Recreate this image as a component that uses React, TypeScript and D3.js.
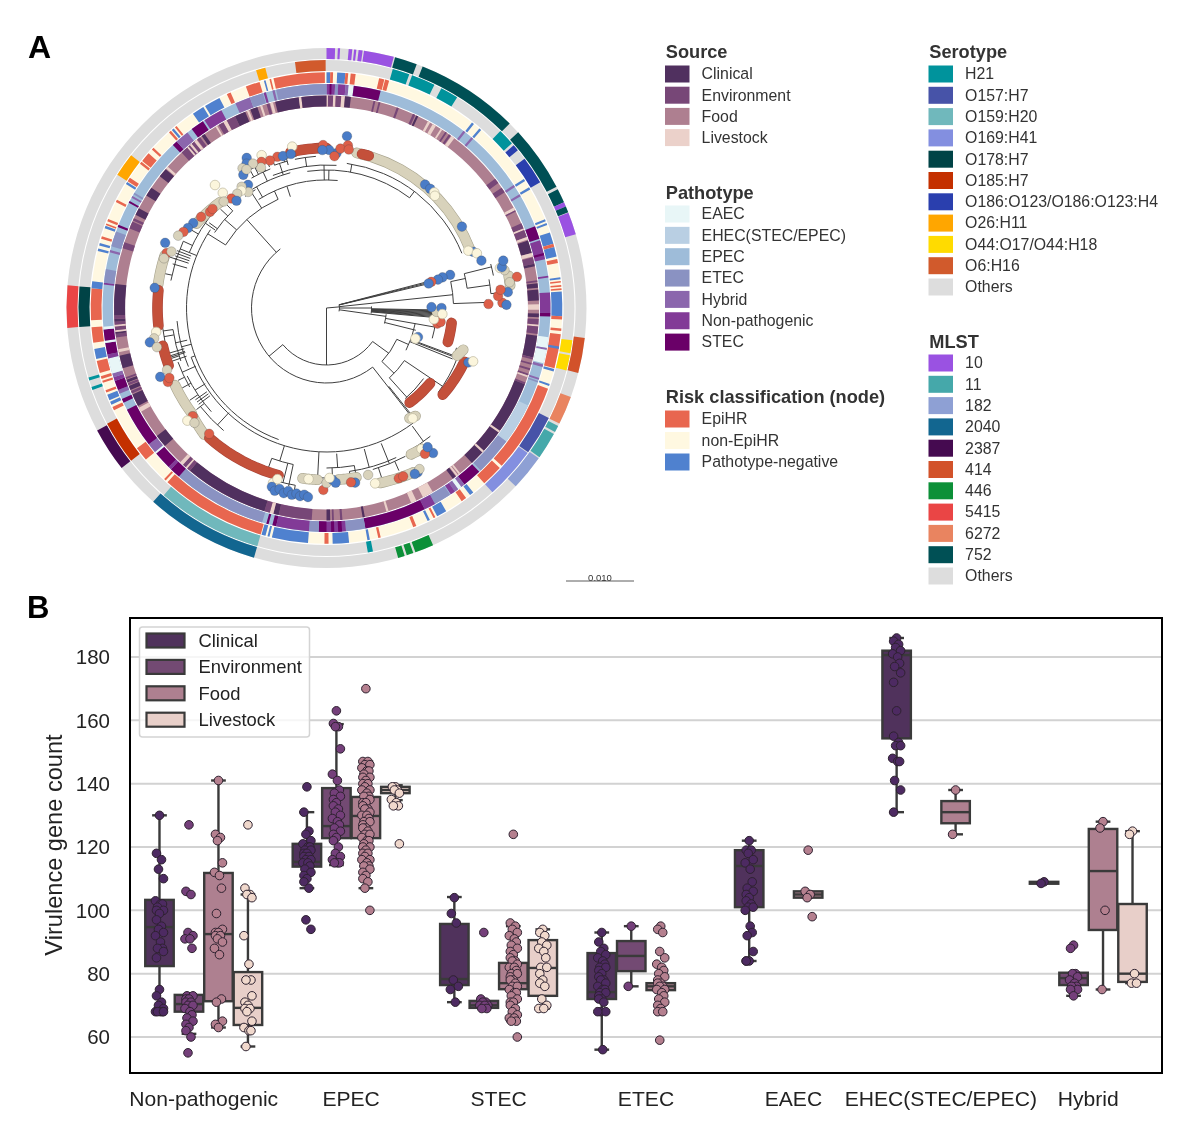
import React from "react";
import * as d3 from "d3";

const FONT = "'Liberation Sans', Arial, sans-serif";

/* ---------- legends ---------- */
const sourceNames = ["Clinical", "Environment", "Food", "Livestock"];
const sourceColors = ["#50305f", "#774777", "#ae7f90", "#ebd1ca"];
const pathotypeNames = ["EAEC", "EHEC(STEC/EPEC)", "EPEC", "ETEC", "Hybrid", "Non-pathogenic", "STEC"];
const pathotypeColors = ["#e8f6f7", "#b9cfe3", "#9ebcd9", "#8a92c2", "#8b66ad", "#823a97", "#6a0068"];
const riskNames = ["EpiHR", "non-EpiHR", "Pathotype-negative"];
const riskColors = ["#e8664f", "#fff8e1", "#4f81cf"];
const serotypeNames = ["H21", "O157:H7", "O159:H20", "O169:H41", "O178:H7", "O185:H7", "O186:O123/O186:O123:H4", "O26:H11", "O44:O17/O44:H18", "O6:H16", "Others"];
const serotypeColors = ["#00939c", "#4753a8", "#70b8bc", "#838fe0", "#004346", "#c43000", "#2a3fae", "#ffa600", "#ffdb00", "#d15a2c", "#dddddd"];
const mlstNames = ["10", "11", "182", "2040", "2387", "414", "446", "5415", "6272", "752", "Others"];
const mlstColors = ["#9a52e2", "#45a8aa", "#8ea0d4", "#126690", "#450a50", "#d2522a", "#0c9038", "#ea4545", "#e98460", "#005055", "#dddddd"];

/* ---------- rings: [from degree, to degree, category]; later runs overlay earlier ones ---------- */
const mlstRuns: [number, number, string][] = [
  [0, 360, "Others"], [0, 1.9, "10"], [2.5, 3, "10"], [4.9, 5.7, "10"], [6.1, 6.6, "10"], [7.1, 8, "10"], [8.3, 15, "10"],
  [15.3, 20.3, "752"], [21.7, 44.8, "752"], [47.5, 62.2, "752"], [62.8, 66, "752"], [66, 67, "10"], [67, 68.4, "752"], [68.5, 73.5, "10"],
  [96.6, 104.5, "414"], [110, 116.4, "6272"], [117, 118.5, "11"], [119, 125, "11"], [125.3, 133.3, "182"],
  [155.8, 160, "446"], [160.5, 162, "446"], [162.5, 164, "446"], [196.2, 221.8, "2040"], [232, 241.9, "2387"], [265.6, 275, "5415"],
];
const serotypeRuns: [number, number, string][] = [
  [0, 360, "Others"], [15.5, 19.5, "H21"], [20.2, 25.8, "H21"], [27.6, 31.8, "H21"], [44.5, 48.4, "H21"], [49, 50.5, "O186:O123/O186:O123:H4"],
  [53, 59.5, "O186:O123/O186:O123:H4"], [97.5, 100.5, "O44:O17/O44:H18"], [101, 104.6, "O44:O17/O44:H18"], [116.3, 125.6, "O157:H7"],
  [125.8, 138, "O169:H41"], [169.2, 170.4, "H21"], [196.2, 221, "O159:H20"], [232, 242.2, "O185:H7"], [250.7, 251.4, "H21"], [253, 253.7, "H21"],
  [265.6, 275, "O178:H7"], [302.5, 308, "O26:H11"], [343.5, 345.7, "O26:H11"], [352.7, 359.8, "O6:H16"],
];
const riskRuns: [number, number, string][] = [
  [0, 360, "non-EpiHR"], [0, .9, "Pathotype-negative"], [.9, 1.6, "EpiHR"], [2.6, 4.6, "Pathotype-negative"], [4.6, 5.3, "EpiHR"], [5.9, 7.1, "EpiHR"],
  [12.9, 14.2, "EpiHR"], [14.4, 15.4, "EpiHR"], [38.1, 38.7, "Pathotype-negative"], [40.4, 41, "Pathotype-negative"], [56.8, 57.4, "Pathotype-negative"], [59.2, 59.8, "Pathotype-negative"],
  [67.9, 68.4, "Pathotype-negative"], [68.9, 69.4, "Pathotype-negative"], [71.3, 74.2, "Pathotype-negative"], [74.2, 75, "EpiHR"], [75, 77.4, "Pathotype-negative"], [78, 79, "EpiHR"],
  [82.5, 83, "Pathotype-negative"], [83.4, 83.8, "EpiHR"], [84.4, 84.8, "EpiHR"], [85.2, 85.6, "EpiHR"], [86, 92, "Pathotype-negative"], [92, 92.8, "EpiHR"], [95, 95.6, "EpiHR"],
  [96.4, 104.8, "EpiHR"], [99.4, 100, "Pathotype-negative"], [105, 105.6, "Pathotype-negative"], [108.8, 109.3, "Pathotype-negative"], [110, 132, "EpiHR"], [132.7, 138, "EpiHR"],
  [141.5, 142.5, "Pathotype-negative"], [143.7, 145, "EpiHR"], [149.5, 152, "Pathotype-negative"], [152.5, 153, "EpiHR"], [154, 154.6, "Pathotype-negative"], [157.6, 158.4, "EpiHR"],
  [166.7, 167.3, "EpiHR"], [169.4, 170, "Pathotype-negative"], [174.5, 178.5, "Pathotype-negative"], [179.5, 180.5, "EpiHR"],
  [184.5, 193.4, "Pathotype-negative"], [194, 194.5, "Pathotype-negative"], [195, 196, "Pathotype-negative"], [196.2, 222.4, "EpiHR"], [223, 223.5, "EpiHR"], [230, 233.5, "EpiHR"],
  [244.3, 245.2, "EpiHR"], [245.8, 246.6, "Pathotype-negative"], [247, 248.4, "Pathotype-negative"], [249, 249.6, "EpiHR"], [251.5, 252, "EpiHR"], [252.5, 253.2, "EpiHR"], [254, 257, "EpiHR"],
  [257.5, 260, "Pathotype-negative"], [261.5, 265.3, "EpiHR"], [267, 274.8, "EpiHR"], [274.8, 276.5, "Pathotype-negative"], [284, 284.6, "Pathotype-negative"], [285.4, 286, "Pathotype-negative"],
  [287.1, 287.7, "EpiHR"], [289.8, 290.4, "Pathotype-negative"], [290.6, 291, "EpiHR"], [291.6, 292.2, "EpiHR"], [296.7, 297.3, "EpiHR"], [301.7, 302.3, "Pathotype-negative"], [302.5, 303.5, "EpiHR"],
  [307.7, 308.3, "EpiHR"], [308.6, 311, "EpiHR"], [312.2, 312.8, "EpiHR"], [318.1, 318.7, "EpiHR"], [319, 319.6, "Pathotype-negative"], [320, 320.5, "EpiHR"], [325.5, 328.5, "Pathotype-negative"],
  [329, 333, "Pathotype-negative"], [335, 336, "EpiHR"], [340, 343.5, "EpiHR"], [344.6, 345, "Pathotype-negative"], [346, 346.4, "EpiHR"], [347, 359.6, "EpiHR"],
];
const pathotypeRuns: [number, number, string][] = [
  [0, 360, "EPEC"], [0, 2.2, "Non-pathogenic"], [.8, 1.3, "STEC"], [2.2, 3, "ETEC"], [3, 4.9, "Non-pathogenic"], [4.9, 5.7, "Hybrid"], [5.7, 7, "EAEC"], [7, 14, "STEC"],
  [37.7, 38.3, "Hybrid"], [40.3, 40.9, "Hybrid"], [56.7, 57.3, "Hybrid"], [59.5, 60.1, "Hybrid"], [68.6, 72, "STEC"], [72.4, 77.4, "Non-pathogenic"], [75.8, 76.4, "STEC"], [81.7, 82.2, "Non-pathogenic"],
  [86, 91.3, "Non-pathogenic"], [91.3, 92.2, "STEC"], [97.5, 100.3, "EAEC"], [100.3, 100.8, "Hybrid"], [100.8, 104.3, "EAEC"], [104.6, 105.3, "Hybrid"], [108.2, 108.7, "Hybrid"], [109, 109.4, "ETEC"],
  [115.8, 126.6, "EHEC(STEC/EPEC)"], [126.6, 136.5, "ETEC"], [137, 142, "STEC"], [142, 143, "Hybrid"], [143, 144, "EAEC"], [144, 145, "Hybrid"], [145, 146.3, "Non-pathogenic"], [146.5, 151, "ETEC"],
  [151, 154, "Non-pathogenic"], [154, 170, "STEC"], [170, 175, "ETEC"], [175, 182, "Non-pathogenic"], [176, 177, "STEC"], [178, 178.8, "STEC"], [180, 182, "STEC"], [182, 184.5, "ETEC"],
  [184.5, 193, "Non-pathogenic"], [193, 194, "STEC"], [195, 195.6, "STEC"], [196.7, 221.2, "ETEC"], [221.2, 224, "STEC"], [224, 224.8, "Non-pathogenic"], [224.8, 229.5, "STEC"], [229.5, 230, "EAEC"],
  [230, 232.5, "Hybrid"], [232.5, 243, "STEC"], [245, 246, "STEC"], [247.5, 248.5, "Hybrid"], [248.5, 251, "STEC"], [251, 252, "Non-pathogenic"], [252, 253, "Hybrid"], [253, 257, "EAEC"], [257, 258, "Non-pathogenic"],
  [258, 261, "STEC"], [261, 261.6, "EAEC"], [261.6, 264.5, "STEC"], [264.5, 265.2, "EAEC"], [276, 276.5, "Non-pathogenic"], [276.5, 280, "ETEC"], [284.4, 285, "Hybrid"], [286, 290, "ETEC"], [291.2, 291.8, "STEC"],
  [298, 298.5, "STEC"], [299.5, 300, "Hybrid"], [300.5, 301, "ETEC"], [316.7, 318, "STEC"], [318, 321.6, "Hybrid"], [323, 326.5, "STEC"], [327, 332, "Non-pathogenic"], [336, 340, "Hybrid"],
  [340, 343.5, "ETEC"], [343.7, 344.3, "Non-pathogenic"], [346, 346.6, "Hybrid"], [347, 360, "ETEC"],
];
const sourceRuns: [number, number, string][] = [
  [0, 360, "Food"], [0, .4, "Livestock"], [.4, 1.8, "Environment"], [1.8, 2.5, "Livestock"], [2.5, 4, "Environment"], [4, 5, "Livestock"], [5, 6.6, "Clinical"], [12.8, 13.3, "Environment"], [14.2, 14.7, "Environment"],
  [19.3, 19.9, "Environment"], [24, 24.7, "Environment"], [25, 25.6, "Clinical"], [28.5, 29.2, "Livestock"], [30, 31, "Livestock"], [32.5, 33, "Livestock"], [34, 34.5, "Environment"], [35.2, 35.8, "Environment"], [36, 37, "Livestock"],
  [52.5, 54, "Environment"], [55.5, 57, "Environment"], [61.8, 62.6, "Livestock"], [62.6, 63, "Environment"], [66.5, 68, "Environment"], [68, 68.5, "Livestock"], [68.5, 70.5, "Environment"], [70.5, 71.2, "Livestock"], [71.5, 75, "Clinical"],
  [75, 76, "Livestock"], [76.2, 78, "Environment"], [78, 78.7, "Clinical"], [82.5, 83, "Environment"], [83.3, 84.5, "Clinical"], [85, 88, "Clinical"], [89, 90.5, "Livestock"], [91.5, 92.5, "Clinical"], [93, 94.5, "Environment"], [94.5, 95, "Livestock"],
  [95, 97, "Environment"], [97.5, 103.5, "Clinical"], [103.5, 104, "Environment"], [105, 105.5, "Environment"], [106.5, 107, "Environment"], [108, 108.5, "Environment"], [108.5, 109, "Livestock"], [110.5, 111, "Environment"],
  [111, 136.8, "Clinical"], [125.3, 125.9, "Livestock"], [132.2, 132.8, "Livestock"], [141, 141.5, "Livestock"], [141.8, 142.3, "Livestock"], [142.5, 143.5, "Clinical"], [150, 153, "Livestock"], [155, 156.5, "Livestock"], [163, 163.6, "Livestock"],
  [169.6, 170.2, "Clinical"], [175.7, 176.3, "Environment"], [178, 178.5, "Environment"], [179, 180, "Clinical"], [184, 193, "Environment"], [193, 194.5, "Clinical"], [194.5, 195.5, "Livestock"], [195.5, 197, "Environment"], [197, 220, "Clinical"],
  [220, 221, "Environment"], [221, 221.5, "Livestock"], [221.5, 222.5, "Environment"], [222.5, 223.5, "Livestock"], [229.5, 233, "Clinical"], [240.8, 242, "Livestock"], [242.5, 246, "Clinical"], [246.3, 247, "Environment"], [247.3, 248.5, "Clinical"],
  [248.7, 249.3, "Environment"], [249.5, 250.3, "Clinical"], [250.5, 251, "Environment"], [253.5, 257, "Clinical"], [258, 258.8, "Livestock"], [262, 263, "Environment"], [263, 263.5, "Clinical"], [263.5, 264, "Livestock"], [264, 265, "Environment"],
  [265, 265.5, "Livestock"], [265.5, 266.3, "Environment"], [266.3, 267, "Clinical"], [267, 268, "Environment"], [268, 276.5, "Clinical"], [286.3, 288, "Environment"], [292, 294, "Environment"], [294.3, 295, "Environment"], [296, 298, "Clinical"],
  [302, 304.5, "Clinical"], [308.3, 310.8, "Clinical"], [311, 311.7, "Livestock"], [317, 322, "Environment"], [319, 319.5, "Livestock"], [320, 320.6, "Livestock"], [321.5, 322.3, "Livestock"], [322.5, 323.5, "Environment"], [324, 325, "Clinical"],
  [328.5, 329, "Livestock"], [329.5, 331, "Environment"], [331, 332, "Livestock"], [332, 334.5, "Environment"], [334.5, 337.5, "Clinical"], [338, 338.6, "Livestock"], [339, 341, "Clinical"], [341.8, 342.4, "Livestock"], [343.6, 344.4, "Environment"], [344.6, 345.4, "Livestock"],
  [346, 352.5, "Clinical"], [352.5, 353.2, "Livestock"], [353.2, 360, "Clinical"],
];

/* ---------- tree: [angle of stem, branch start, branch end, arc from, arc to] ---------- */
const treeClades: number[][] = [
  [180, 0, 57, 126, 230], [230, 57, 75, 142, 322], [126, 57, 77, 114, 134], [134, 77, 94, 124, 138], [138, 94, 120, 126, 139], [124, 94, 140, 111, 127],
  [114, 77, 90, 100, 118], [112, 90, 136, 107, 111], [111, 90, 136], [110.5, 95, 136], [142, 75, 136, 140, 144], [141.5, 100, 136], [108, 90, 94], [100, 60, 110, 97, 106], [98, 13, 60, 96, 105], [104, 60, 92],
  [85, 0, 13, 75, 105], [76, 13, 103, 75, 78], [75.4, 13, 103], [76.6, 13, 103], [90, 13, 45, 88, 97], [91, 45, 113], [91.5, 45, 113], [92, 45, 113], [92.5, 45, 113], [93, 45, 113], [93.5, 45, 113], [94, 45, 113], [94.5, 45, 113], [95, 45, 113],
  [84, 13, 127, 78, 88], [78, 127, 142, 76, 82], [76, 142, 170, 75, 79], [82, 142, 165, 80, 85], [88, 127, 160, 87, 90], [85, 165, 178],
  [318, 75, 119, 302, 336], [336, 119, 128, 328, 365], [1, 128, 138, -8, 37], [37, 138, 146], [10, 138, 146, 8, 68], [-1, 128, 143, -22, 4], [342, 128, 117], [330, 128, 140, 328, 345], [335, 140, 150, 330, 338], [342, 140, 152, 340, 345],
  [331, 150, 160], [336, 150, 158], [344, 152, 160], [340, 152, 158], [333, 150, 158, 329, 336], [338, 152, 160, 336, 341], [345, 148, 155, 343, 349], [352, 143, 152, 348, 356],
  [327, 119, 138, 324, 329], [311, 119, 135, 304, 316], [325, 138, 142], [306, 135, 145], [316, 135, 143], [313, 135, 145],
  [302, 119, 140, 200, 304], [305, 136, 148, 292, 312], [292, 140, 158, 280, 295], [300, 148, 156], [295, 148, 158], [282, 158, 165], [288, 158, 165],
  [288, 145, 160], [289, 145, 160], [290, 145, 160], [291, 145, 160], [286, 145, 160],
  [255, 140, 150, 247, 265], [257, 143, 155, 250, 262], [260, 155, 165, 258, 268], [246, 143, 158, 240, 250], [238, 143, 155, 228, 244], [223, 143, 160, 220, 232], [250, 140, 144, 143, 250], [262, 155, 165], [252, 155, 163], [244, 158, 165], [232, 155, 165], [236, 155, 165], [241, 155, 165],
  [251, 148, 165], [252.5, 148, 165], [253, 148, 165], [254, 148, 165], [233, 146, 160], [234, 146, 160], [235, 146, 160],
  [197, 144, 160, 192, 200], [194, 160, 180, 190, 196], [200, 160, 172], [192, 160, 182], [190, 180, 186], [196, 180, 186],
  [183, 144, 170, 180, 188], [176, 146, 160, 170, 180], [165, 146, 165, 155, 172], [158, 146, 168, 152, 164], [144, 146, 165, 141, 151],
  [170, 160, 168], [178, 160, 168], [172, 165, 170], [156, 168, 178], [162, 168, 178], [147, 165, 168], [150, 165, 168],
];
/* dense leaf groups along the circle: [from degree, to degree, radius at start, radius at end, colour key] */
const leafBands: [number, number, number, number, string][] = [
  [11, 68, 158, 155, "tan"], [13, 15.5, 158, 158, "rust"], [347, 360, 160, 160, "rust"], [315, 303, 150, 155, "tan"], [288, 278, 170, 170, "tan"], [276, 264, 169, 169, "rust"],
  [257, 250, 168, 168, "rust"], [243, 232, 170, 171, "tan"], [231, 224, 172, 176, "tan"], [222, 196, 175, 174, "rust"],
  [188, 183, 172, 172, "tan"], [176, 170, 172, 172, "tan"], [163, 152, 183, 186, "tan"], [150, 146, 169, 170, "tan"], [143, 140.5, 138, 140, "tan"],
  [138.7, 126, 126, 128, "rust"], [126.7, 111.3, 145, 148, "rust"], [110, 107, 139, 143, "tan"], [105.6, 96.8, 126, 126, "rust"], [83, 80, 185, 185, "tan"],
];
/* single leaves: [degree, radius, colour key] */
const leafDots: [number, number, string][] = [
  [6.8, 173, "blue"], [7.5, 164, "red"], [3.7, 155, "blue"], [-1.2, 163, "red"], [1, 158, "blue"], [5, 160, "red"], [3, 152, "red"], [8, 160, "red"],
  [38.6, 158, "blue"], [41, 158, "blue"], [43, 158, "cream"], [44, 156, "cream"], [59, 158, "blue"], [69, 157, "blue"], [68, 153, "cream"], [70, 160, "cream"], [73, 162, "blue"],
  [342, 159, "red"], [339, 158, "red"], [337, 166, "cream"], [336, 160, "red"], [335, 155, "tan"], [348, 165, "cream"], [344, 158, "blue"], [347, 158, "blue"], [358.5, 158, "blue"],
  [332, 170, "blue"], [331, 165, "blue"], [329, 163, "tan"], [328, 157, "blue"], [333, 162, "tan"], [330, 160, "tan"],
  [327.5, 146, "blue"], [326, 140, "tan"], [325, 148, "tan"], [324, 145, "cream"], [322, 145, "tan"], [319, 145, "red"], [320, 140, "blue"], [318, 155, "cream"], [317.8, 166, "cream"], [316, 148, "tan"],
  [309.5, 151, "red"], [311, 151, "red"], [306, 155, "red"], [302.5, 158, "blue"], [300, 160, "blue"], [298, 162, "red"], [296, 165, "tan"], [292, 174, "blue"], [289, 169, "red"], [290, 165, "tan"], [287, 170, "tan"],
  [276.7, 173, "blue"], [262, 172, "cream"], [260, 175, "tan"], [259, 180, "blue"], [257, 174, "tan"], [248.8, 171, "tan"], [247.5, 180, "blue"], [245, 175, "red"], [246, 172, "red"],
  [231, 172, "red"], [231, 179, "cream"], [229, 175, "tan"], [223, 172, "red"], [197, 183, "cream"], [196, 178, "cream"],
  [197, 187, "blue"], [195.8, 190, "blue"], [194.5, 187, "blue"], [193, 190, "blue"], [191.8, 187, "blue"], [190.5, 190, "blue"], [189.2, 188, "blue"], [188, 190, "blue"], [186.8, 188, "blue"], [185.6, 190, "blue"],
  [186, 172, "cream"], [181, 182, "red"], [180, 175, "tan"], [178, 172, "blue"], [177, 175, "blue"], [179, 170, "cream"], [170.7, 177, "blue"], [172, 176, "red"], [166, 172, "tan"], [164.5, 182, "cream"],
  [157, 185, "red"], [155.5, 185, "red"], [151, 188, "blue"], [150, 186, "tan"], [152, 188, "blue"], [146, 170, "cream"], [143.7, 180, "blue"], [146, 176, "red"], [144, 172, "blue"],
  [142, 140, "cream"], [111, 152, "blue"], [110, 156, "cream"], [107.6, 96, "blue"], [109, 94, "cream"], [98, 112, "red"], [95, 112, "red"], [97, 115, "red"], [96, 108, "cream"], [92, 110, "tan"], [90, 115, "blue"], [93, 116, "cream"], [89.5, 105, "blue"],
  [88.6, 162, "red"], [88.3, 176, "red"], [89, 180, "blue"], [85, 182, "blue"], [86, 172, "red"], [84, 175, "red"], [80.7, 193, "red"], [82, 185, "tan"], [78, 182, "tan"], [77, 178, "cream"], [76.9, 180, "blue"], [75, 183, "blue"],
  [75, 128, "blue"], [75.2, 120, "blue"], [75.7, 115, "blue"], [76, 108, "red"], [76.5, 105, "blue"],
];
const leafColors: Record<string, string> = { red: "#dd5f49", rust: "#c4503a", cream: "#fbf5dc", tan: "#d8d2bb", blue: "#4a7cc7" };

/* ---------- box plot ---------- */
const categories = ["Non-pathogenic", "EPEC", "STEC", "ETEC", "EAEC", "EHEC(STEC/EPEC)", "Hybrid"];
const yTicks = [60, 80, 100, 120, 140, 160, 180];
/* [low whisker, q1, median, q3, high whisker] per source */
type Box = number[] | null;
const nonPathogenicBoxes: Box[] = [[68, 82.4, 94.7, 103.3, 130], [61, 68, 70.4, 73.3, 73.3], [63, 71.3, 92.5, 111.8, 141], [57, 63.8, 69.2, 80.5, 105]];
const epecBoxes: Box[] = [[107, 113.8, 115.3, 121, 131], [114.3, 122.8, 126.6, 138.6, 158.8], [107, 122.8, 129.8, 135.8, 147], [134.8, 137, 138, 139, 139.5]];
const stecBoxes: Box[] = [[71, 76.4, 78.3, 95.7, 104.2], [69.2, 69.2, 70, 71.4, 71.4], [65, 75.1, 77, 83.4, 95], [69, 73, 81.8, 90.6, 94]];
const etecBoxes: Box[] = [[56, 72, 74.2, 86.5, 93], [76, 80.8, 85.6, 90.3, 95], [76, 74.8, 76, 77, 77], null];
const eaecBoxes: Box[] = [[84, 101, 114, 119, 122], null, [104, 104, 105, 106, 106], null];
const ehecBoxes: Box[] = [[131, 154.3, 180.6, 182, 186], null, [124, 127.5, 131, 134.5, 138], null];
const hybridBoxes: Box[] = [[108.4, 108.4, 108.7, 109, 109], [73, 76.4, 78.6, 80.3, 80.3], [75, 93.8, 112.4, 125.7, 128], [77, 77.4, 80, 102, 125]];
const boxTable: Box[][] = [nonPathogenicBoxes, epecBoxes, stecBoxes, etecBoxes, eaecBoxes, ehecBoxes, hybridBoxes];

/* gene counts of the isolates, per source */
const nonPathogenicPoints = [
  [130, 118, 116, 113, 110, 103, 102, 102, 101, 100, 100, 99, 97, 95, 94, 93, 92, 90, 88, 88, 87, 85, 75, 73, 71, 70, 69, 68, 68, 68, 68, 68],
  [127, 106, 105, 93, 92, 91, 91, 88, 73, 73, 72, 72, 71, 71, 70, 70, 69, 68, 67, 66, 65, 64, 63, 62, 60, 55],
  [141, 124, 123, 122, 115, 112, 111, 107, 99, 94, 93, 93, 92, 92, 91, 90, 88, 86, 72, 71, 65, 64, 63],
  [127, 107, 105, 105, 104, 92, 83, 78, 78, 73, 71, 70, 69, 69, 68, 65, 63, 62, 62, 57],
];
const epecPoints = [
  [139, 131, 125, 124, 122, 121, 120, 120, 119, 119, 118, 118, 117, 117, 116, 116, 115, 115, 114, 113, 112, 111, 110, 109, 107, 97, 94],
  [163, 159, 158, 158, 151, 143, 141, 138, 137, 136, 135, 134, 133, 132, 131, 130, 129, 128, 127, 126, 125, 124, 123, 122, 120, 118, 117, 116, 115, 115, 115],
  [170, 147, 147, 146, 146, 145, 144, 144, 143, 142, 142, 141, 140, 140, 139, 138, 138, 137, 136, 136, 135, 134, 134, 133, 132, 132, 131, 130, 130, 129, 128, 128, 127, 126, 126, 125, 124, 124, 123, 122, 122, 121, 120, 120, 119, 118, 118, 117, 116, 116, 115, 114, 114, 113, 112, 111, 110, 109, 107, 100],
  [139, 139, 138, 138, 137, 135, 134, 133, 133, 121],
];
const stecPoints = [
  [104, 99, 96, 78, 76, 75, 71],
  [93, 72, 71, 71, 70, 70, 70, 69, 69],
  [124, 96, 95, 94, 93, 92, 91, 90, 89, 88, 87, 86, 85, 84, 84, 83, 82, 82, 81, 80, 80, 79, 78, 78, 77, 76, 76, 75, 74, 74, 73, 72, 71, 71, 70, 69, 68, 67, 66, 66, 65, 65, 60],
  [94, 93, 92, 90, 89, 88, 87, 85, 82, 82, 80, 78, 77, 76, 72, 70, 69, 69],
];
const etecPoints = [
  [93, 90, 88, 87, 86, 85, 84, 83, 82, 82, 81, 80, 79, 78, 78, 77, 76, 75, 75, 74, 74, 73, 72, 72, 71, 68, 68, 68, 56],
  [95, 76],
  [95, 94, 93, 87, 85, 83, 82, 81, 80, 79, 78, 77, 77, 76, 76, 75, 75, 74, 73, 72, 71, 70, 69, 68, 68, 59],
  [],
];
const eaecPoints = [
  [122, 119, 119, 118, 116, 115, 113, 109, 107, 106, 105, 104, 103, 102, 101, 101, 100, 95, 93, 92, 87, 84, 84, 84],
  [],
  [119, 106, 105, 104, 98],
  [],
];
const ehecPoints = [
  [186, 185, 184, 183, 182, 181, 180, 178, 177, 175, 172, 163, 155, 153, 152, 152, 148, 147, 147, 141, 138, 131],
  [],
  [138, 124],
  [],
];
const hybridPoints = [
  [109, 108.5],
  [89, 88, 80, 80, 79, 78, 77, 76, 76, 75, 75, 73],
  [128, 126, 100, 75],
  [125, 124, 80, 77, 77],
];
const pointTable = [nonPathogenicPoints, epecPoints, stecPoints, etecPoints, eaecPoints, ehecPoints, hybridPoints];
const jitterCycle = [0, -3, 2, -1, 4, -4, 1, 3, -2, 4, -3];

const pointColors = ["#4d2a62", "#743f7a", "#b5808f", "#f0d8cc"];
const boxColors = ["#50325c", "#734a73", "#ae8090", "#e8cfc9"];
const EDGE = "#3a3a3a";

/* ---------- geometry ---------- */
const cx = 326.5, cy = 308;
const deg = d3.scaleLinear().domain([0, 360]).range([0, 2 * Math.PI]);
const arcGen = d3.arc();
const ringBands = [
  { runs: mlstRuns, names: mlstNames, colors: mlstColors, r0: 249, r1: 260 },
  { runs: serotypeRuns, names: serotypeNames, colors: serotypeColors, r0: 237, r1: 248 },
  { runs: riskRuns, names: riskNames, colors: riskColors, r0: 225, r1: 235.8 },
  { runs: pathotypeRuns, names: pathotypeNames, colors: pathotypeColors, r0: 213.5, r1: 224 },
  { runs: sourceRuns, names: sourceNames, colors: sourceColors, r0: 201.5, r1: 212.5 },
];
function cladePath(c: number[]) {
  const [a, r0, r1, a0, a1] = c;
  const p = d3.path();
  const [x0, y0] = d3.pointRadial(deg(a), r0);
  const [x1, y1] = d3.pointRadial(deg(a), r1);
  p.moveTo(x0, y0); p.lineTo(x1, y1);
  if (a0 !== undefined) {
    const [xa, ya] = d3.pointRadial(deg(a0), r1);
    p.moveTo(xa, ya);
    p.arc(0, 0, r1, deg(a0) - Math.PI / 2, deg(a1) - Math.PI / 2);
  }
  return p.toString();
}
function bandPath(b: [number, number, number, number, string]) {
  const [a0, a1, r0, r1] = b;
  const t = d3.scaleLinear().domain([0, 1]);
  const line = d3.lineRadial<number>().angle((u) => deg(t.range([a0, a1])(u))).radius((u) => t.range([r0, r1])(u));
  return line([0, .1, .2, .3, .4, .5, .6, .7, .8, .9, 1]) || "";
}

const legendGroups = [
  { title: "Source", names: sourceNames, colors: sourceColors, x: 665, titleY: 51, y0: 74, step: 21.2 },
  { title: "Pathotype", names: pathotypeNames, colors: pathotypeColors, x: 665, titleY: 192, y0: 214, step: 21.35 },
  { title: "Risk classification (node)", names: riskNames, colors: riskColors, x: 665, titleY: 396, y0: 419, step: 21.5 },
  { title: "Serotype", names: serotypeNames, colors: serotypeColors, x: 928.5, titleY: 51, y0: 74, step: 21.3 },
  { title: "MLST", names: mlstNames, colors: mlstColors, x: 928.5, titleY: 341, y0: 363, step: 21.3 },
];

/* plot B */
const frame = { l: 130, r: 1162, t: 618, b: 1073 };
const y = d3.scaleLinear().domain([60, 180]).range([1037, 657]);
const xBand = d3.scaleBand<string>().domain(categories).range([frame.l, frame.r]);
const hue = d3.scaleBand<string>().domain(sourceNames).range([xBand.bandwidth() * 0.1, xBand.bandwidth() * 0.9]);

export default function App() {
  return (
    <svg width={1188} height={1137} viewBox="0 0 1188 1137" style={{ position: "absolute", left: 0, top: 0, background: "#fff", fontFamily: FONT, filter: "blur(0.4px)" }}>
      <text x={28} y={58} fontSize={32} fontWeight="bold" fill="#000">A</text>
      <text x={27} y={618} fontSize={31} fontWeight="bold" fill="#000">B</text>

      <g transform={`translate(${cx},${cy})`}>
        {ringBands.map((ring, i) => (
          <g key={i}>
            {ring.runs.map(([from, to, name], j) => (
              <path key={j} fill={ring.colors[ring.names.indexOf(name)]}
                d={arcGen({ innerRadius: ring.r0, outerRadius: ring.r1, startAngle: deg(from), endAngle: deg(to) } as any) as string} />
            ))}
          </g>
        ))}
        <g fill="none" stroke="#3f3f3f" strokeWidth={1}>
          {treeClades.map((c, i) => <path key={i} d={cladePath(c)} />)}
        </g>
        <g fill="none" strokeLinecap="round">
          {leafBands.map((b, i) => (
            <g key={i}>
              <path d={bandPath(b)} stroke={b[4] === "tan" ? "#a8a48e" : "#a9463a"} strokeWidth={10.6} />
              <path d={bandPath(b)} stroke={leafColors[b[4]]} strokeWidth={9.4} />
            </g>
          ))}
        </g>
        {leafDots.map(([a, r, k], i) => {
          const [px, py] = d3.pointRadial(deg(a), r);
          return <circle key={i} cx={px} cy={py} r={4.8} fill={leafColors[k]} stroke={k === "cream" ? "#bdb89f" : "rgba(60,60,60,.35)"} strokeWidth={0.7} />;
        })}
      </g>

      <g>
        <line x1={566} x2={634} y1={581} y2={581} stroke="#333" strokeWidth={0.8} />
        <text x={600} y={580.5} textAnchor="middle" fontSize={9.5} fill="#333">0.010</text>
      </g>

      {legendGroups.map((g) => (
        <g key={g.title}>
          <text x={g.x + 0.8} y={g.titleY} dy="0.36em" fontSize={18.2} fontWeight="bold" fill="#333">{g.title}</text>
          {g.names.map((n, i) => (
            <g key={n}>
              <rect x={g.x} y={g.y0 + i * g.step - 8.5} width={24.5} height={17} fill={g.colors[i]} />
              <text x={g.x + 36.6} y={g.y0 + i * g.step} dy="0.34em" fontSize={15.85} fill="#333">{n}</text>
            </g>
          ))}
        </g>
      ))}

      {/* Panel B */}
      {yTicks.map((t) => (
        <line key={t} x1={frame.l} x2={frame.r} y1={y(t)} y2={y(t)} stroke="#d2d2d2" strokeWidth={2} />
      ))}
      {categories.map((cat, ci) => {
        const c0 = xBand(cat) as number;
        return (
          <g key={cat}>
            {boxTable[ci].map((b, hi) => {
              if (!b) return null;
              const [lo, q1, med, q3, hiW] = b;
              const w = hue.bandwidth();
              const x0 = c0 + (hue(sourceNames[hi]) as number);
              const mid = x0 + w / 2;
              return (
                <g key={hi} stroke={EDGE} strokeWidth={2.4} fill="none">
                  {hiW > q3 && <line x1={mid} x2={mid} y1={y(q3)} y2={y(hiW)} />}
                  {lo < q1 && <line x1={mid} x2={mid} y1={y(q1)} y2={y(lo)} />}
                  {hiW > q3 && <line x1={mid - w / 4} x2={mid + w / 4} y1={y(hiW)} y2={y(hiW)} />}
                  {lo < q1 && <line x1={mid - w / 4} x2={mid + w / 4} y1={y(lo)} y2={y(lo)} />}
                  <rect x={x0 + .5} width={w - 1} y={y(q3)} height={y(q1) - y(q3)} fill={boxColors[hi]} />
                  <line x1={x0 + .5} x2={x0 + w - .5} y1={y(med)} y2={y(med)} />
                </g>
              );
            })}
            {pointTable[ci].map((vals, hi) => {
              const mid = c0 + (hue(sourceNames[hi]) as number) + hue.bandwidth() / 2;
              return vals.map((v, k) => (
                <circle key={`${hi}-${k}`} cx={mid + jitterCycle[k % jitterCycle.length]} cy={y(v)} r={4.3}
                  fill={pointColors[hi]} stroke="#2e2230" strokeWidth={1} />
              ));
            })}
            <text x={c0 + xBand.bandwidth() / 2} y={1099} dy="0.35em" textAnchor="middle" fontSize={21.1} fill="#222">{cat}</text>
          </g>
        );
      })}
      <rect x={frame.l} y={frame.t} width={frame.r - frame.l} height={frame.b - frame.t} fill="none" stroke="#000" strokeWidth={2} />
      {yTicks.map((t) => (
        <text key={t} x={110} y={y(t)} dy="0.35em" textAnchor="end" fontSize={20.5} fill="#222">{t}</text>
      ))}
      <text transform="translate(54,845) rotate(-90)" textAnchor="middle" dy="0.35em" fontSize={23.6} fill="#222">Virulence gene count</text>

      <rect x={139.5} y={627} width={170} height={110} rx={3} fill="#fff" fillOpacity={0.8} stroke="#d4d4d4" strokeWidth={1.5} />
      {sourceNames.map((n, i) => (
        <g key={n}>
          <rect x={146.5} y={633.5 + i * 26.4} width={38} height={14} fill={boxColors[i]} stroke={EDGE} strokeWidth={2.2} />
          <text x={198.5} y={640.5 + i * 26.4} dy="0.35em" fontSize={18.4} fill="#222">{n}</text>
        </g>
      ))}
    </svg>
  );
}
